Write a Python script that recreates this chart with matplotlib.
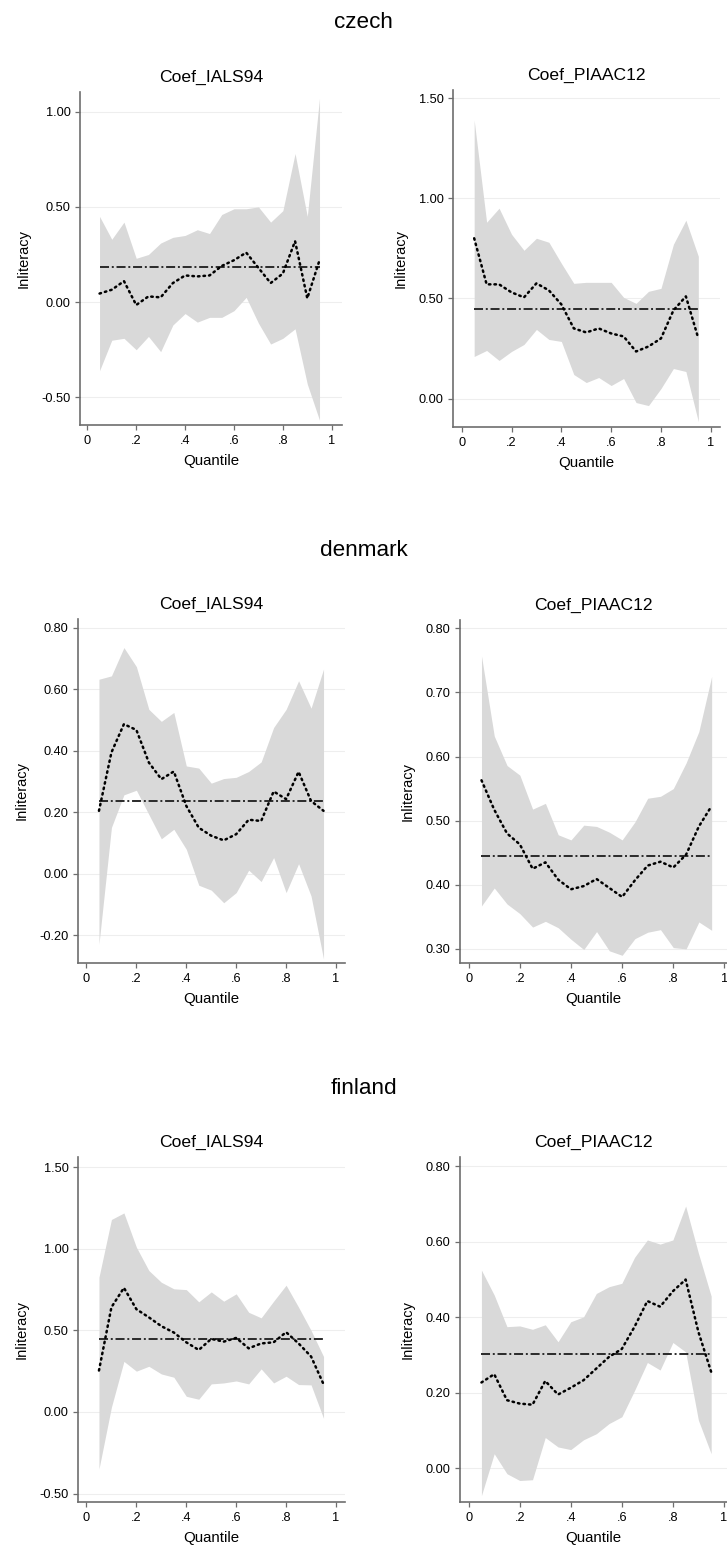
import matplotlib
matplotlib.use("Agg")
import matplotlib.pyplot as plt
import numpy as np

# ---------------- data ----------------
quantiles = [0.05, 0.10, 0.15, 0.20, 0.25, 0.30, 0.35, 0.40, 0.45, 0.50,
             0.55, 0.60, 0.65, 0.70, 0.75, 0.80, 0.85, 0.90, 0.95]
xtick_vals = [0, 0.2, 0.4, 0.6, 0.8, 1]
xtick_labels = ["0", ".2", ".4", ".6", ".8", "1"]
countries = ["czech", "denmark", "finland"]
panel_titles = ["Coef_IALS94", "Coef_PIAAC12"]

# czech IALS94
czech_ials_coef = [0.045, 0.065, 0.11, -0.015, 0.03, 0.025, 0.10, 0.14, 0.135, 0.14,
                   0.19, 0.22, 0.26, 0.18, 0.10, 0.15, 0.32, 0.02, 0.22]
czech_ials_hi = [0.45, 0.33, 0.42, 0.23, 0.25, 0.31, 0.34, 0.35, 0.38, 0.36,
                 0.46, 0.49, 0.49, 0.50, 0.42, 0.48, 0.78, 0.45, 1.07]
czech_ials_lo = [-0.36, -0.20, -0.19, -0.25, -0.18, -0.26, -0.12, -0.06, -0.105, -0.08,
                 -0.08, -0.045, 0.025, -0.11, -0.22, -0.19, -0.14, -0.43, -0.62]
czech_ials_ols = 0.187

# czech PIAAC12
czech_piaac_coef = [0.80, 0.57, 0.57, 0.53, 0.505, 0.575, 0.54, 0.47, 0.35, 0.33,
                    0.35, 0.325, 0.31, 0.235, 0.26, 0.30, 0.44, 0.51, 0.30]
czech_piaac_hi = [1.39, 0.88, 0.95, 0.82, 0.74, 0.80, 0.78, 0.675, 0.575, 0.58,
                  0.58, 0.58, 0.505, 0.475, 0.535, 0.55, 0.77, 0.89, 0.71]
czech_piaac_lo = [0.21, 0.24, 0.19, 0.235, 0.27, 0.345, 0.295, 0.285, 0.12, 0.08,
                  0.105, 0.065, 0.10, -0.02, -0.035, 0.05, 0.15, 0.135, -0.115]
czech_piaac_ols = 0.448

# denmark IALS94
denmark_ials_coef = [0.205, 0.395, 0.487, 0.468, 0.362, 0.308, 0.333, 0.221, 0.15, 0.124,
                     0.109, 0.129, 0.176, 0.172, 0.268, 0.243, 0.332, 0.237, 0.205]
denmark_ials_hi = [0.633, 0.644, 0.736, 0.674, 0.535, 0.496, 0.525, 0.351, 0.344, 0.295,
                   0.31, 0.314, 0.333, 0.364, 0.476, 0.535, 0.628, 0.539, 0.666]
denmark_ials_lo = [-0.229, 0.151, 0.257, 0.272, 0.193, 0.114, 0.145, 0.08, -0.037, -0.053,
                   -0.094, -0.061, 0.012, -0.025, 0.053, -0.061, 0.033, -0.072, -0.277]
denmark_ials_ols = 0.236

# denmark PIAAC12
denmark_piaac_coef = [0.563, 0.517, 0.48, 0.463, 0.425, 0.435, 0.408, 0.393, 0.398, 0.409,
                      0.395, 0.381, 0.407, 0.430, 0.436, 0.427, 0.447, 0.491, 0.523]
denmark_piaac_hi = [0.757, 0.632, 0.586, 0.571, 0.518, 0.527, 0.478, 0.470, 0.493, 0.491,
                    0.482, 0.470, 0.498, 0.535, 0.538, 0.550, 0.590, 0.639, 0.725]
denmark_piaac_lo = [0.367, 0.395, 0.370, 0.355, 0.334, 0.343, 0.333, 0.315, 0.299, 0.327,
                    0.297, 0.29, 0.316, 0.326, 0.330, 0.302, 0.30, 0.342, 0.329]
denmark_piaac_ols = 0.445

# finland IALS94
finland_ials_coef = [0.254, 0.642, 0.761, 0.63, 0.58, 0.526, 0.487, 0.427, 0.38, 0.448,
                     0.431, 0.454, 0.39, 0.42, 0.427, 0.489, 0.42, 0.34, 0.17]
finland_ials_hi = [0.826, 1.18, 1.22, 1.01, 0.867, 0.795, 0.755, 0.75, 0.675, 0.736,
                   0.679, 0.724, 0.611, 0.577, 0.679, 0.777, 0.642, 0.50, 0.34]
finland_ials_lo = [-0.35, 0.03, 0.31, 0.25, 0.28, 0.233, 0.213, 0.096, 0.078, 0.172,
                   0.178, 0.19, 0.172, 0.264, 0.178, 0.219, 0.168, 0.166, -0.039]
finland_ials_ols = 0.448

# finland PIAAC12
finland_piaac_coef = [0.227, 0.249, 0.18, 0.171, 0.168, 0.231, 0.195, 0.213, 0.233, 0.264,
                      0.295, 0.316, 0.375, 0.443, 0.428, 0.469, 0.50, 0.361, 0.255]
finland_piaac_hi = [0.525, 0.459, 0.375, 0.377, 0.368, 0.38, 0.335, 0.388, 0.401, 0.463,
                    0.481, 0.49, 0.559, 0.605, 0.594, 0.605, 0.695, 0.57, 0.456]
finland_piaac_lo = [-0.073, 0.038, -0.015, -0.033, -0.031, 0.081, 0.056, 0.049, 0.075, 0.091,
                    0.118, 0.136, 0.206, 0.28, 0.26, 0.333, 0.308, 0.127, 0.038]
finland_piaac_ols = 0.302

# y tick values per panel
czech_ials_yticks = [-0.5, 0.0, 0.5, 1.0]
czech_piaac_yticks = [0.0, 0.5, 1.0, 1.5]
denmark_ials_yticks = [-0.2, 0.0, 0.2, 0.4, 0.6, 0.8]
denmark_piaac_yticks = [0.3, 0.4, 0.5, 0.6, 0.7, 0.8]
finland_ials_yticks = [-0.5, 0.0, 0.5, 1.0, 1.5]
finland_piaac_yticks = [0.0, 0.2, 0.4, 0.6, 0.8]

# ---------------- figure ----------------
plt.rcParams['font.family'] = ['Liberation Sans', 'DejaVu Sans']
plt.rcParams['lines.scale_dashes'] = False

W, H = 727, 1547
fig = plt.figure(figsize=(W / 100, H / 100), dpi=100)
fig.patch.set_facecolor('white')

FILL = '#d9d9d9'
SPINE = '#6e6e6e'

panels = [
    # (coef, lo, hi, ols, yticks, box px (l, t, r, b), xlim, ylim)
    (czech_ials_coef, czech_ials_lo, czech_ials_hi, czech_ials_ols, czech_ials_yticks,
     (80, 92, 342, 425), (-0.030, 1.042), (-0.645, 1.103)),
    (czech_piaac_coef, czech_piaac_lo, czech_piaac_hi, czech_piaac_ols, czech_piaac_yticks,
     (453, 90, 720, 427), (-0.035, 1.037), (-0.142, 1.54)),
    (denmark_ials_coef, denmark_ials_lo, denmark_ials_hi, denmark_ials_ols, denmark_ials_yticks,
     (78, 619, 345, 963), (-0.034, 1.036), (-0.29, 0.829)),
    (denmark_piaac_coef, denmark_piaac_lo, denmark_piaac_hi, denmark_piaac_ols, denmark_piaac_yticks,
     (460, 620, 727, 963), (-0.034, 1.01), (0.278, 0.813)),
    (finland_ials_coef, finland_ials_lo, finland_ials_hi, finland_ials_ols, finland_ials_yticks,
     (78, 1157, 345, 1502), (-0.034, 1.036), (-0.552, 1.563)),
    (finland_piaac_coef, finland_piaac_lo, finland_piaac_hi, finland_piaac_ols, finland_piaac_yticks,
     (460, 1157, 727, 1502), (-0.034, 1.012), (-0.090, 0.825)),
]

for i, (coef, lo, hi, ols, yticks, box, xlim, ylim) in enumerate(panels):
    l, t, r, b = box
    ax = fig.add_axes([l / W, 1 - b / H, (r - l) / W, (b - t) / H])
    ax.set_xlim(*xlim)
    ax.set_ylim(*ylim)

    ax.fill_between(quantiles, lo, hi, color=FILL, linewidth=0, zorder=2)
    ax.plot([quantiles[0], quantiles[-1]], [ols, ols], color='#2a2a2a', lw=1.4,
            dashes=(6.5, 2.0, 1.4, 2.0), zorder=3)
    ax.plot(quantiles, coef, color='black', lw=1.8, dashes=(1.1, 2.9),
            dash_capstyle='round', zorder=4)

    ax.set_yticks(yticks)
    ax.set_yticklabels([f"{v:.2f}" for v in yticks])
    ax.set_xticks(xtick_vals)
    ax.set_xticklabels(xtick_labels)
    ax.grid(axis='y', color='#eeeeee', lw=0.8, zorder=1)
    ax.grid(axis='x', visible=False)
    ax.set_axisbelow(True)

    for s in ['top', 'right']:
        ax.spines[s].set_visible(False)
    for s in ['left', 'bottom']:
        ax.spines[s].set_color(SPINE)
        ax.spines[s].set_linewidth(1.2)
    ax.tick_params(axis='both', direction='out', length=3.4, width=0.9, color=SPINE,
                   labelsize=9.2, labelcolor='black', pad=3.3)
    ax.tick_params(axis='x', pad=4.0)

    ax.set_ylabel("Inliteracy", fontsize=10.5, labelpad=8)
    ax.set_xlabel("Quantile", fontsize=10.8, labelpad=4.5)

    # panel title
    fig.text((l + r) / 2 / W, 1 - (t - 10.5) / H, panel_titles[i % 2],
             ha='center', va='baseline', fontsize=12.6)

# country titles
for name, top in zip(countries, [92, 619, 1157]):
    fig.text(363.5 / W, 1 - (top - 63.5) / H, name, ha='center', va='baseline', fontsize=16.2)

fig.savefig("out.png", dpi=100, facecolor='white')
